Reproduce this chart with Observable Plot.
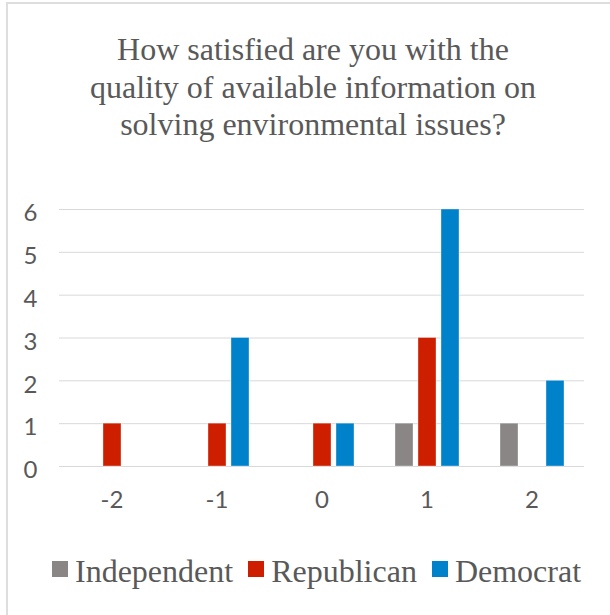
<!DOCTYPE html>
<html>
<head>
<meta charset="utf-8">
<script src="https://cdn.jsdelivr.net/npm/d3@7"></script>
<script src="https://cdn.jsdelivr.net/npm/@observablehq/plot@0.6"></script>
<style>
  html, body { margin: 0; padding: 0; background: #fff; }
  body { position: relative; width: 610px; height: 615px; overflow: hidden; }
  #frame {
    position: absolute; left: 6px; top: 2px; width: 700px; height: 700px;
    border-left: 2px solid #DEDEDE; border-top: 2px solid #DEDEDE;
    box-sizing: border-box;
  }
  #title {
    position: absolute; left: 13px; top: 31px; width: 600px;
    text-align: center; font-family: "Liberation Serif", serif;
    font-size: 32px; line-height: 37.5px; color: #595959;
  }
  #chart { position: absolute; left: 0; top: 190px; }
  #legend {
    position: absolute; left: 52px; top: 553px; display: flex; gap: 15px;
    font-family: "Liberation Serif", serif; font-size: 32px; line-height: 36px;
    color: #595959; white-space: nowrap;
  }
  #legend .item { display: flex; align-items: flex-start; }
  #legend .sw { width: 16px; height: 16px; margin-top: 8px; margin-right: 7px; }
</style>
</head>
<body>
<div id="frame"></div>
<div id="title">How satisfied are you with the<br>quality of available information on<br>solving environmental issues?</div>
<div id="chart"></div>
<div id="legend"></div>
<script>
// Survey responses (satisfaction scale) and counts per party
const responses = [-2, -1, 0, 1, 2];
const parties = ["Independent", "Republican", "Democrat"];
const partyColors = ["#8A8685", "#CD1F00", "#0082CB"];
const independent = [0, 0, 0, 1, 1];
const republican = [1, 1, 1, 3, 0];
const democrat = [0, 3, 1, 6, 2];
const yTicks = [0, 1, 2, 3, 4, 5, 6];

const series = [independent, republican, democrat];
const rows = [];
responses.forEach((r, i) => {
  parties.forEach((p, j) => rows.push({response: r, party: p, count: series[j][i]}));
});

const chart = Plot.plot({
  width: 610,
  height: 325,
  marginLeft: 59,
  marginRight: 26,
  marginTop: 19,
  marginBottom: 49,
  fx: {domain: responses, padding: 0, label: null},
  x: {domain: parties, paddingInner: 0.22, paddingOuter: 0.89, axis: null},
  y: {domain: [0, 6], label: null},
  color: {domain: parties, range: partyColors},
  style: {fontFamily: "Lato, sans-serif", fontSize: "20px", color: "#595959", background: "transparent"},
  marks: [
    Plot.ruleY(yTicks, {stroke: "#D9D9D9", strokeWidth: 1}),
    Plot.barY(rows, {
      fx: "response", x: "party", y: "count", fill: "party",
      filter: d => d.count > 0,
      stroke: "#ffffff", strokeOpacity: 0.35, strokeWidth: 1,
      insetLeft: 0, insetRight: 0
    }),
    Plot.axisY(yTicks, {tickSize: 0, tickPadding: 22, dy: 4, fontSize: 24, label: null}),
    Plot.axisFx({anchor: "bottom", tickSize: 0, tickPadding: 24, fontSize: 24, tickFormat: d => String(d), label: null})
  ]
});
document.getElementById("chart").appendChild(chart);

// Legend built from the same party list and colours
const legend = d3.select("#legend");
parties.forEach((p, j) => {
  const item = legend.append("div").attr("class", "item");
  item.append("div").attr("class", "sw").style("background", partyColors[j]);
  item.append("span").text(p);
});
</script>
</body>
</html>
